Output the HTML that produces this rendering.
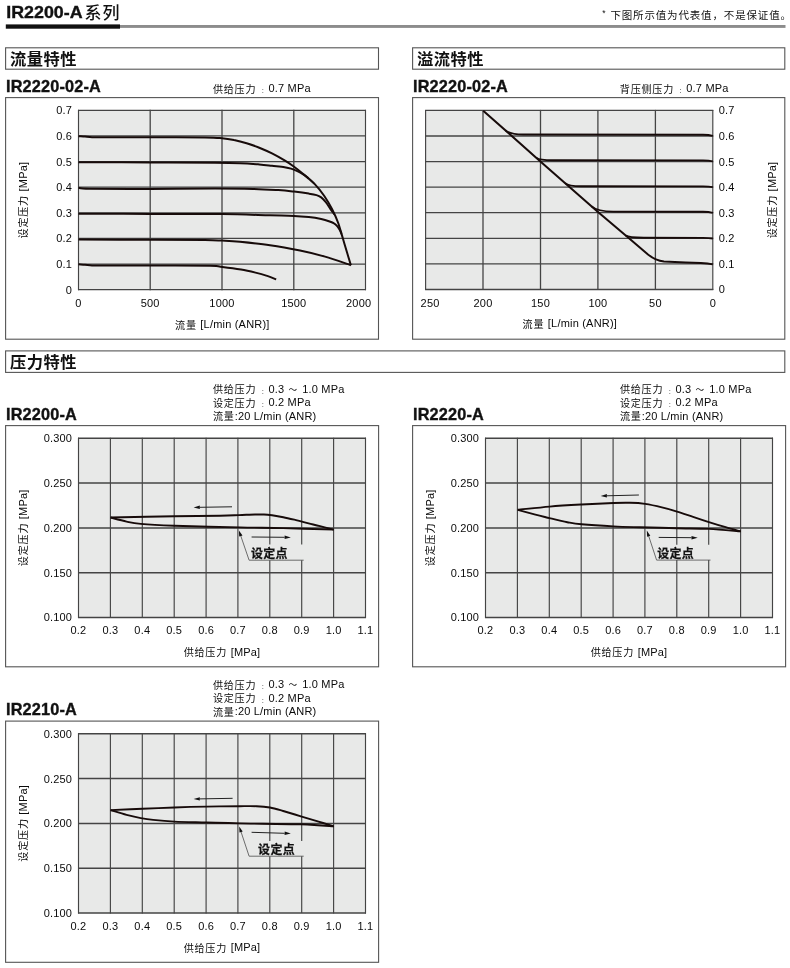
<!DOCTYPE html>
<html lang="zh-CN">
<head>
<meta charset="utf-8">
<title>IR2200-A系列</title>
<style>
html,body{margin:0;padding:0;background:#fff;}
body{width:790px;height:968px;overflow:hidden;}
svg{display:block;font-family:'Liberation Sans', 'Noto Sans CJK SC', sans-serif;}
</style>
</head>
<body>
<svg width="790" height="968" viewBox="0 0 790 968">
<text transform="translate(6.2 18.4) scale(1.07 1)" font-size="16.7" font-weight="bold" fill="#111" stroke="#111" stroke-width="0.35" paint-order="stroke">IR2200-A</text>
<text x="84.6" y="19.2" font-size="17" font-weight="500" fill="#111" letter-spacing="0.9">系列</text>
<rect x="120" y="25" width="665.5" height="2.9" fill="#8c8c8c"/>
<rect x="5.8" y="24.4" width="114.2" height="4.3" fill="#111"/>
<text x="602.3" y="19.0" font-size="10.5" fill="#111" letter-spacing="0.84"><tspan font-size="8.5" dy="-3.2">*</tspan><tspan x="610.4" dy="3.2">下图所示值为代表值，不是保证值。</tspan></text>
<rect x="5.6" y="47.8" width="372.9" height="21.4" fill="#fff" stroke="#555" stroke-width="1.1"/>
<text x="10.1" y="64.5" font-size="16.3" font-weight="bold" fill="#111" letter-spacing="0.45">流量特性</text>
<rect x="412.6" y="47.8" width="372.2" height="21.4" fill="#fff" stroke="#555" stroke-width="1.1"/>
<text x="417.1" y="64.5" font-size="16.3" font-weight="bold" fill="#111" letter-spacing="0.45">溢流特性</text>
<rect x="5.6" y="350.9" width="779.2" height="21.5" fill="#fff" stroke="#555" stroke-width="1.1"/>
<text x="10.1" y="367.7" font-size="16.3" font-weight="bold" fill="#111" letter-spacing="0.45">压力特性</text>
<text x="6.0" y="92.1" font-size="16.3" font-weight="bold" fill="#111" letter-spacing="0.15" stroke="#111" stroke-width="0.35" paint-order="stroke">IR2220-02-A</text>
<text x="212.9" y="92.1" font-size="11" fill="#0a0a0a"><tspan font-size="10.1" letter-spacing="0.75" dy="0.5">供给压力</tspan><tspan x="261.2" dy="0.3" font-size="6.4" fill="#333">：</tspan><tspan x="268.4" dy="-0.8" letter-spacing="0.2">0.7 MPa</tspan></text>
<rect x="5.6" y="97.6" width="372.9" height="241.6" fill="#fff" stroke="#555" stroke-width="1.1"/>
<rect x="78.5" y="110.3" width="287.0" height="179.4" fill="#e8e9e8" stroke="none" stroke-width="1"/>
<line x1="78.5" y1="109.8" x2="78.5" y2="290.2" stroke="#444" stroke-width="1.15"/>
<line x1="150.2" y1="109.8" x2="150.2" y2="290.2" stroke="#444" stroke-width="1.3"/>
<line x1="222.0" y1="109.8" x2="222.0" y2="290.2" stroke="#444" stroke-width="1.3"/>
<line x1="293.8" y1="109.8" x2="293.8" y2="290.2" stroke="#444" stroke-width="1.3"/>
<line x1="365.5" y1="109.8" x2="365.5" y2="290.2" stroke="#444" stroke-width="1.15"/>
<line x1="78.0" y1="110.3" x2="366.0" y2="110.3" stroke="#444" stroke-width="1.3"/>
<line x1="78.0" y1="135.9" x2="366.0" y2="135.9" stroke="#444" stroke-width="1.3"/>
<line x1="78.0" y1="161.6" x2="366.0" y2="161.6" stroke="#444" stroke-width="1.3"/>
<line x1="78.0" y1="187.2" x2="366.0" y2="187.2" stroke="#444" stroke-width="1.3"/>
<line x1="78.0" y1="212.8" x2="366.0" y2="212.8" stroke="#444" stroke-width="1.3"/>
<line x1="78.0" y1="238.4" x2="366.0" y2="238.4" stroke="#444" stroke-width="1.3"/>
<line x1="78.0" y1="264.1" x2="366.0" y2="264.1" stroke="#444" stroke-width="1.3"/>
<line x1="78.0" y1="289.7" x2="366.0" y2="289.7" stroke="#444" stroke-width="1.3"/>
<text x="72.2" y="114.2" font-size="11" text-anchor="end" letter-spacing="0.2" fill="#0a0a0a">0.7</text>
<text x="72.2" y="139.9" font-size="11" text-anchor="end" letter-spacing="0.2" fill="#0a0a0a">0.6</text>
<text x="72.2" y="165.5" font-size="11" text-anchor="end" letter-spacing="0.2" fill="#0a0a0a">0.5</text>
<text x="72.2" y="191.1" font-size="11" text-anchor="end" letter-spacing="0.2" fill="#0a0a0a">0.4</text>
<text x="72.2" y="216.8" font-size="11" text-anchor="end" letter-spacing="0.2" fill="#0a0a0a">0.3</text>
<text x="72.2" y="242.4" font-size="11" text-anchor="end" letter-spacing="0.2" fill="#0a0a0a">0.2</text>
<text x="72.2" y="268.0" font-size="11" text-anchor="end" letter-spacing="0.2" fill="#0a0a0a">0.1</text>
<text x="72.2" y="293.6" font-size="11" text-anchor="end" letter-spacing="0.2" fill="#0a0a0a">0</text>
<text x="78.5" y="306.8" font-size="11" text-anchor="middle" letter-spacing="0.2" fill="#0a0a0a">0</text>
<text x="150.2" y="306.8" font-size="11" text-anchor="middle" letter-spacing="0.2" fill="#0a0a0a">500</text>
<text x="222.0" y="306.8" font-size="11" text-anchor="middle" letter-spacing="0.2" fill="#0a0a0a">1000</text>
<text x="293.8" y="306.8" font-size="11" text-anchor="middle" letter-spacing="0.2" fill="#0a0a0a">1500</text>
<text x="358.7" y="306.8" font-size="11" text-anchor="middle" letter-spacing="0.2" fill="#0a0a0a">2000</text>
<text x="222.3" y="328.2" font-size="11" text-anchor="middle" fill="#0a0a0a"><tspan font-size="10.12" letter-spacing="0.75" dy="0.5">流量 </tspan><tspan letter-spacing="0.2" dy="-0.5">[L/min (ANR)]</tspan></text>
<text transform="translate(26.9 200.1) rotate(-90)" font-size="11" text-anchor="middle" fill="#0a0a0a"><tspan font-size="10.12" letter-spacing="0.75" dy="0.5">设定压力 </tspan><tspan letter-spacing="0.2" dy="-0.5">[MPa]</tspan></text>
<path d="M78.5 136.2 C79.6 136.3 82.8 136.4 85.0 136.6 C87.2 136.8 89.5 137.1 92.0 137.2 C94.5 137.3 90.3 137.3 100.0 137.3 C109.7 137.3 132.5 137.3 150.0 137.3 C167.5 137.3 193.0 137.2 205.0 137.4 C217.0 137.6 217.2 137.8 222.0 138.2 C226.8 138.6 229.9 139.2 234.0 140.1 C238.1 140.9 242.4 142.0 246.6 143.3 C250.8 144.6 255.1 146.0 259.3 147.7 C263.5 149.4 267.8 151.3 272.0 153.4 C276.2 155.5 280.9 158.2 284.6 160.4 C288.3 162.6 290.9 164.4 294.1 166.7 C297.3 169.0 300.1 171.4 303.6 174.3 C307.1 177.2 311.6 180.8 315.0 184.4 C318.4 188.0 321.5 191.9 324.3 196.0 C327.1 200.1 329.7 204.5 332.0 209.0 C334.3 213.5 336.4 218.1 338.2 223.0 C340.0 227.9 341.3 233.3 342.9 238.5 C344.4 243.7 346.2 249.6 347.5 254.0 C348.8 258.4 350.3 263.3 350.9 265.2" fill="none" stroke="#170b0a" stroke-width="2" stroke-linecap="butt" stroke-linejoin="round"/>
<path d="M78.5 162.3 C90.4 162.3 127.2 162.3 150.0 162.4 C172.8 162.5 199.9 162.6 215.0 162.7 C230.1 162.8 232.9 162.9 240.3 163.2 C247.7 163.5 254.0 164.0 259.3 164.4 C264.6 164.8 267.8 165.3 272.0 165.8 C276.2 166.3 281.4 166.8 284.6 167.3 C287.8 167.8 288.9 168.0 291.0 168.6 C293.1 169.2 295.2 170.1 297.3 171.1 C299.4 172.1 301.7 173.4 303.6 174.6 C305.5 175.8 307.7 177.8 308.5 178.4" fill="none" stroke="#170b0a" stroke-width="2" stroke-linecap="butt" stroke-linejoin="round"/>
<path d="M78.5 187.8 C80.4 188.0 78.1 188.5 90.0 188.7 C101.9 188.9 129.2 188.9 150.0 188.9 C170.8 188.9 197.8 188.6 215.0 188.6 C232.2 188.6 242.4 188.7 253.0 188.9 C263.6 189.2 271.4 189.7 278.3 190.1 C285.2 190.5 289.0 191.0 294.1 191.6 C299.2 192.2 305.1 193.0 308.8 193.6 C312.5 194.2 314.4 194.5 316.5 195.1 C318.6 195.7 319.6 196.2 321.2 197.4 C322.8 198.6 324.2 200.2 325.8 202.1 C327.4 204.0 329.1 207.0 330.5 209.1 C331.9 211.2 333.7 213.5 334.3 214.4" fill="none" stroke="#170b0a" stroke-width="2" stroke-linecap="butt" stroke-linejoin="round"/>
<path d="M78.5 213.7 C90.4 213.7 126.1 213.8 150.0 213.9 C173.9 214.0 202.0 213.9 222.0 214.1 C242.0 214.3 258.0 215.0 270.0 215.3 C282.0 215.6 287.5 215.6 294.0 215.9 C300.5 216.2 304.3 216.6 308.8 217.1 C313.3 217.6 317.9 218.4 321.2 219.1 C324.5 219.8 326.8 220.5 328.9 221.2 C331.0 221.9 332.2 222.3 333.6 223.2 C335.0 224.0 336.4 225.2 337.4 226.3 C338.4 227.4 339.1 228.7 339.8 230.0 C340.5 231.3 341.2 233.3 341.5 234.0" fill="none" stroke="#170b0a" stroke-width="2" stroke-linecap="butt" stroke-linejoin="round"/>
<path d="M78.5 239.6 C90.4 239.6 128.9 239.7 150.0 239.8 C171.1 239.9 193.0 239.9 205.0 240.0 C217.0 240.1 216.2 240.3 222.0 240.6 C227.8 240.9 232.0 241.0 240.0 241.8 C248.0 242.6 260.0 243.8 270.0 245.2 C280.0 246.6 290.8 248.6 300.0 250.5 C309.2 252.4 316.5 254.2 325.0 256.6 C333.5 259.1 346.6 263.8 350.9 265.2" fill="none" stroke="#170b0a" stroke-width="2" stroke-linecap="butt" stroke-linejoin="round"/>
<path d="M78.5 264.3 C79.6 264.4 82.8 264.6 85.0 264.8 C87.2 265.0 89.5 265.4 92.0 265.5 C94.5 265.6 90.3 265.6 100.0 265.6 C109.7 265.6 131.7 265.6 150.0 265.6 C168.3 265.6 197.9 265.6 210.0 265.8 C222.1 266.0 217.2 266.4 222.4 267.0 C227.6 267.6 235.5 268.6 241.0 269.5 C246.5 270.4 251.0 271.5 255.5 272.6 C260.0 273.7 264.4 275.0 267.9 276.1 C271.3 277.2 274.8 278.8 276.2 279.4" fill="none" stroke="#170b0a" stroke-width="2" stroke-linecap="butt" stroke-linejoin="round"/>
<text x="413.0" y="92.1" font-size="16.3" font-weight="bold" fill="#111" letter-spacing="0.15" stroke="#111" stroke-width="0.35" paint-order="stroke">IR2220-02-A</text>
<text x="619.8" y="92.1" font-size="11" fill="#0a0a0a"><tspan font-size="10.1" letter-spacing="0.75" dy="0.5">背压侧压力</tspan><tspan x="679.1" dy="0.3" font-size="6.4" fill="#333">：</tspan><tspan x="686.3" dy="-0.8" letter-spacing="0.2">0.7 MPa</tspan></text>
<rect x="412.6" y="97.6" width="372.2" height="241.6" fill="#fff" stroke="#555" stroke-width="1.1"/>
<rect x="425.6" y="110.4" width="287.2" height="179.1" fill="#e8e9e8" stroke="none" stroke-width="1"/>
<line x1="425.6" y1="109.9" x2="425.6" y2="290.0" stroke="#444" stroke-width="1.15"/>
<line x1="483.0" y1="109.9" x2="483.0" y2="290.0" stroke="#444" stroke-width="1.3"/>
<line x1="540.5" y1="109.9" x2="540.5" y2="290.0" stroke="#444" stroke-width="1.3"/>
<line x1="597.9" y1="109.9" x2="597.9" y2="290.0" stroke="#444" stroke-width="1.3"/>
<line x1="655.4" y1="109.9" x2="655.4" y2="290.0" stroke="#444" stroke-width="1.3"/>
<line x1="712.8" y1="109.9" x2="712.8" y2="290.0" stroke="#444" stroke-width="1.15"/>
<line x1="425.1" y1="110.4" x2="713.3" y2="110.4" stroke="#444" stroke-width="1.3"/>
<line x1="425.1" y1="136.0" x2="713.3" y2="136.0" stroke="#444" stroke-width="1.3"/>
<line x1="425.1" y1="161.6" x2="713.3" y2="161.6" stroke="#444" stroke-width="1.3"/>
<line x1="425.1" y1="187.2" x2="713.3" y2="187.2" stroke="#444" stroke-width="1.3"/>
<line x1="425.1" y1="212.7" x2="713.3" y2="212.7" stroke="#444" stroke-width="1.3"/>
<line x1="425.1" y1="238.3" x2="713.3" y2="238.3" stroke="#444" stroke-width="1.3"/>
<line x1="425.1" y1="263.9" x2="713.3" y2="263.9" stroke="#444" stroke-width="1.3"/>
<line x1="425.1" y1="289.5" x2="713.3" y2="289.5" stroke="#444" stroke-width="1.3"/>
<text x="718.7" y="114.3" font-size="11" letter-spacing="0.2" fill="#0a0a0a">0.7</text>
<text x="718.7" y="139.9" font-size="11" letter-spacing="0.2" fill="#0a0a0a">0.6</text>
<text x="718.7" y="165.5" font-size="11" letter-spacing="0.2" fill="#0a0a0a">0.5</text>
<text x="718.7" y="191.1" font-size="11" letter-spacing="0.2" fill="#0a0a0a">0.4</text>
<text x="718.7" y="216.7" font-size="11" letter-spacing="0.2" fill="#0a0a0a">0.3</text>
<text x="718.7" y="242.3" font-size="11" letter-spacing="0.2" fill="#0a0a0a">0.2</text>
<text x="718.7" y="267.9" font-size="11" letter-spacing="0.2" fill="#0a0a0a">0.1</text>
<text x="718.7" y="293.4" font-size="11" letter-spacing="0.2" fill="#0a0a0a">0</text>
<text x="430.1" y="307.2" font-size="11" text-anchor="middle" letter-spacing="0.2" fill="#0a0a0a">250</text>
<text x="483.0" y="307.2" font-size="11" text-anchor="middle" letter-spacing="0.2" fill="#0a0a0a">200</text>
<text x="540.5" y="307.2" font-size="11" text-anchor="middle" letter-spacing="0.2" fill="#0a0a0a">150</text>
<text x="597.9" y="307.2" font-size="11" text-anchor="middle" letter-spacing="0.2" fill="#0a0a0a">100</text>
<text x="655.4" y="307.2" font-size="11" text-anchor="middle" letter-spacing="0.2" fill="#0a0a0a">50</text>
<text x="712.8" y="307.2" font-size="11" text-anchor="middle" letter-spacing="0.2" fill="#0a0a0a">0</text>
<text x="569.8" y="327.2" font-size="11" text-anchor="middle" fill="#0a0a0a"><tspan font-size="10.12" letter-spacing="0.75" dy="0.5">流量 </tspan><tspan letter-spacing="0.2" dy="-0.5">[L/min (ANR)]</tspan></text>
<text transform="translate(775.6 200.0) rotate(-90)" font-size="11" text-anchor="middle" fill="#0a0a0a"><tspan font-size="10.12" letter-spacing="0.75" dy="0.5">设定压力 </tspan><tspan letter-spacing="0.2" dy="-0.5">[MPa]</tspan></text>
<path d="M483.2 110.7 L540.4 161.4 L597.7 211.8 L628.4 237.8 L648.0 254.5 Q655.6 260.6 664 261.6 L685.6 262.5 L700.8 263 Q708 263.3 712.8 264.4" fill="none" stroke="#170b0a" stroke-width="2" stroke-linecap="butt" stroke-linejoin="round"/>
<path d="M505.4 130.4 Q510.1 134.5 523.2 134.5 L703 134.7 Q709 134.8 712.8 135.8" fill="none" stroke="#170b0a" stroke-width="1.9" stroke-linecap="butt" stroke-linejoin="round"/>
<path d="M536.5 157.9 Q539.0 160.2 553.0 160.2 L703 160.4 Q709 160.5 712.8 161.4" fill="none" stroke="#170b0a" stroke-width="1.9" stroke-linecap="butt" stroke-linejoin="round"/>
<path d="M565.1 183.1 Q568.6 186.2 581.0 186.2 L703 186.4 Q709 186.5 712.8 187.1" fill="none" stroke="#170b0a" stroke-width="1.9" stroke-linecap="butt" stroke-linejoin="round"/>
<path d="M591.6 206.4 Q597.5 211.6 613.2 211.6 L703 211.8 Q709 211.9 712.8 212.8" fill="none" stroke="#170b0a" stroke-width="1.9" stroke-linecap="butt" stroke-linejoin="round"/>
<path d="M625.8 235.6 Q628.3 237.7 644.0 237.7 L703 237.9 Q709 238.0 712.8 238.5" fill="none" stroke="#170b0a" stroke-width="1.9" stroke-linecap="butt" stroke-linejoin="round"/>
<text x="212.9" y="392.8" font-size="11" fill="#0a0a0a"><tspan font-size="10.1" letter-spacing="0.75" dy="0.5">供给压力</tspan><tspan x="261.2" dy="0.3" font-size="6.4" fill="#333">：</tspan><tspan x="268.4" dy="-0.8" letter-spacing="0.2">0.3<tspan x="288.4" font-size="8.6">～</tspan><tspan x="302.2">1.0 MPa</tspan></tspan></text>
<text x="212.9" y="406.3" font-size="11" fill="#0a0a0a"><tspan font-size="10.1" letter-spacing="0.75" dy="0.5">设定压力</tspan><tspan x="261.2" dy="0.3" font-size="6.4" fill="#333">：</tspan><tspan x="268.4" dy="-0.8" letter-spacing="0.2">0.2 MPa</tspan></text>
<text x="212.9" y="419.6" font-size="11" fill="#0a0a0a"><tspan font-size="10.12" letter-spacing="0.75" dy="0.5">流量</tspan><tspan letter-spacing="0.2" dy="-0.5">:20 L/min (ANR)</tspan></text>
<text x="6.0" y="419.8" font-size="16.3" font-weight="bold" fill="#111" letter-spacing="0.15" stroke="#111" stroke-width="0.35" paint-order="stroke">IR2200-A</text>
<rect x="5.6" y="425.6" width="373.0" height="241.2" fill="#fff" stroke="#555" stroke-width="1.1"/>
<rect x="78.5" y="438.2" width="287.0" height="179.3" fill="#e8e9e8" stroke="none" stroke-width="1"/>
<line x1="78.5" y1="437.7" x2="78.5" y2="618.0" stroke="#444" stroke-width="1.15"/>
<line x1="110.4" y1="437.7" x2="110.4" y2="618.0" stroke="#444" stroke-width="1.15"/>
<line x1="142.3" y1="437.7" x2="142.3" y2="618.0" stroke="#444" stroke-width="1.15"/>
<line x1="174.2" y1="437.7" x2="174.2" y2="618.0" stroke="#444" stroke-width="1.15"/>
<line x1="206.1" y1="437.7" x2="206.1" y2="618.0" stroke="#444" stroke-width="1.15"/>
<line x1="237.9" y1="437.7" x2="237.9" y2="618.0" stroke="#444" stroke-width="1.15"/>
<line x1="269.8" y1="438.2" x2="269.8" y2="544.6" stroke="#444" stroke-width="1.15"/>
<line x1="269.8" y1="560.2" x2="269.8" y2="617.5" stroke="#444" stroke-width="1.15"/>
<line x1="301.7" y1="438.2" x2="301.7" y2="544.6" stroke="#444" stroke-width="1.15"/>
<line x1="301.7" y1="560.2" x2="301.7" y2="617.5" stroke="#444" stroke-width="1.15"/>
<line x1="333.6" y1="437.7" x2="333.6" y2="618.0" stroke="#444" stroke-width="1.15"/>
<line x1="365.5" y1="437.7" x2="365.5" y2="618.0" stroke="#444" stroke-width="1.15"/>
<line x1="78.0" y1="438.2" x2="366.0" y2="438.2" stroke="#444" stroke-width="1.5"/>
<line x1="78.0" y1="483.0" x2="366.0" y2="483.0" stroke="#444" stroke-width="1.5"/>
<line x1="78.0" y1="527.9" x2="366.0" y2="527.9" stroke="#444" stroke-width="1.5"/>
<line x1="78.0" y1="572.7" x2="366.0" y2="572.7" stroke="#444" stroke-width="1.5"/>
<line x1="78.0" y1="617.5" x2="366.0" y2="617.5" stroke="#444" stroke-width="1.5"/>
<text x="72.2" y="442.1" font-size="11" text-anchor="end" letter-spacing="0.2" fill="#0a0a0a">0.300</text>
<text x="72.2" y="487.0" font-size="11" text-anchor="end" letter-spacing="0.2" fill="#0a0a0a">0.250</text>
<text x="72.2" y="531.8" font-size="11" text-anchor="end" letter-spacing="0.2" fill="#0a0a0a">0.200</text>
<text x="72.2" y="576.6" font-size="11" text-anchor="end" letter-spacing="0.2" fill="#0a0a0a">0.150</text>
<text x="72.2" y="621.4" font-size="11" text-anchor="end" letter-spacing="0.2" fill="#0a0a0a">0.100</text>
<text x="78.5" y="634.3" font-size="11" text-anchor="middle" letter-spacing="0.2" fill="#0a0a0a">0.2</text>
<text x="110.4" y="634.3" font-size="11" text-anchor="middle" letter-spacing="0.2" fill="#0a0a0a">0.3</text>
<text x="142.3" y="634.3" font-size="11" text-anchor="middle" letter-spacing="0.2" fill="#0a0a0a">0.4</text>
<text x="174.2" y="634.3" font-size="11" text-anchor="middle" letter-spacing="0.2" fill="#0a0a0a">0.5</text>
<text x="206.1" y="634.3" font-size="11" text-anchor="middle" letter-spacing="0.2" fill="#0a0a0a">0.6</text>
<text x="237.9" y="634.3" font-size="11" text-anchor="middle" letter-spacing="0.2" fill="#0a0a0a">0.7</text>
<text x="269.8" y="634.3" font-size="11" text-anchor="middle" letter-spacing="0.2" fill="#0a0a0a">0.8</text>
<text x="301.7" y="634.3" font-size="11" text-anchor="middle" letter-spacing="0.2" fill="#0a0a0a">0.9</text>
<text x="333.6" y="634.3" font-size="11" text-anchor="middle" letter-spacing="0.2" fill="#0a0a0a">1.0</text>
<text x="365.5" y="634.3" font-size="11" text-anchor="middle" letter-spacing="0.2" fill="#0a0a0a">1.1</text>
<text x="222.0" y="655.6" font-size="11" text-anchor="middle" fill="#0a0a0a"><tspan font-size="10.12" letter-spacing="0.75" dy="0.5">供给压力 </tspan><tspan letter-spacing="0.2" dy="-0.5">[MPa]</tspan></text>
<text transform="translate(26.9 527.8) rotate(-90)" font-size="11" text-anchor="middle" fill="#0a0a0a"><tspan font-size="10.12" letter-spacing="0.75" dy="0.5">设定压力 </tspan><tspan letter-spacing="0.2" dy="-0.5">[MPa]</tspan></text>
<path d="M110.6 517.5 C121.2 517.3 156.2 516.6 174.4 516.3 C192.6 516.0 209.2 515.9 220.0 515.7 C230.8 515.5 233.2 515.3 239.0 515.1 C244.8 514.9 250.8 514.6 255.0 514.5 C259.2 514.4 261.2 514.4 264.0 514.5 C266.8 514.6 268.8 514.8 272.0 515.2 C275.2 515.7 279.3 516.4 283.3 517.2 C287.3 518.0 291.8 519.1 296.0 520.1 C300.2 521.1 304.6 522.3 308.6 523.3 C312.6 524.3 315.8 525.2 320.0 526.2 C324.2 527.2 331.4 529.0 333.7 529.6" fill="none" stroke="#170b0a" stroke-width="1.9" stroke-linecap="butt" stroke-linejoin="round"/>
<path d="M110.6 517.5 C113.3 518.2 121.6 520.5 126.6 521.6 C131.6 522.7 132.8 523.2 140.8 523.9 C148.8 524.6 157.9 525.1 174.4 525.7 C190.9 526.3 221.9 527.0 240.0 527.4 C258.1 527.8 267.6 527.7 283.2 528.1 C298.8 528.5 325.3 529.4 333.7 529.6" fill="none" stroke="#170b0a" stroke-width="1.9" stroke-linecap="butt" stroke-linejoin="round"/>
<line x1="232.0" y1="506.8" x2="199.8" y2="507.3" stroke="#222" stroke-width="1.0"/>
<polygon points="193.6,507.4 199.8,505.6 199.8,509.0" fill="#111"/>
<line x1="251.6" y1="537.0" x2="284.6" y2="537.3" stroke="#222" stroke-width="1.0"/>
<polygon points="290.8,537.4 284.6,539.0 284.6,535.6" fill="#111"/>
<polyline points="240.1,533.9 249.1,560.2 303.7,560.2" fill="none" stroke="#555" stroke-width="0.85"/>
<polygon points="238.9,530.4 242.5,535.5 239.2,536.6" fill="#111"/>
<text x="251.0" y="557.9" font-size="12" font-weight="bold" fill="#111" stroke="#111" stroke-width="0.25" letter-spacing="0.3">设定点</text>
<text x="619.9" y="392.8" font-size="11" fill="#0a0a0a"><tspan font-size="10.1" letter-spacing="0.75" dy="0.5">供给压力</tspan><tspan x="668.2" dy="0.3" font-size="6.4" fill="#333">：</tspan><tspan x="675.4" dy="-0.8" letter-spacing="0.2">0.3<tspan x="695.4" font-size="8.6">～</tspan><tspan x="709.2">1.0 MPa</tspan></tspan></text>
<text x="619.9" y="406.3" font-size="11" fill="#0a0a0a"><tspan font-size="10.1" letter-spacing="0.75" dy="0.5">设定压力</tspan><tspan x="668.2" dy="0.3" font-size="6.4" fill="#333">：</tspan><tspan x="675.4" dy="-0.8" letter-spacing="0.2">0.2 MPa</tspan></text>
<text x="619.9" y="419.6" font-size="11" fill="#0a0a0a"><tspan font-size="10.12" letter-spacing="0.75" dy="0.5">流量</tspan><tspan letter-spacing="0.2" dy="-0.5">:20 L/min (ANR)</tspan></text>
<text x="413.0" y="419.8" font-size="16.3" font-weight="bold" fill="#111" letter-spacing="0.15" stroke="#111" stroke-width="0.35" paint-order="stroke">IR2220-A</text>
<rect x="412.6" y="425.6" width="373.0" height="241.2" fill="#fff" stroke="#555" stroke-width="1.1"/>
<rect x="485.5" y="438.2" width="287.0" height="179.3" fill="#e8e9e8" stroke="none" stroke-width="1"/>
<line x1="485.5" y1="437.7" x2="485.5" y2="618.0" stroke="#444" stroke-width="1.15"/>
<line x1="517.4" y1="437.7" x2="517.4" y2="618.0" stroke="#444" stroke-width="1.15"/>
<line x1="549.3" y1="437.7" x2="549.3" y2="618.0" stroke="#444" stroke-width="1.15"/>
<line x1="581.2" y1="437.7" x2="581.2" y2="618.0" stroke="#444" stroke-width="1.15"/>
<line x1="613.1" y1="437.7" x2="613.1" y2="618.0" stroke="#444" stroke-width="1.15"/>
<line x1="644.9" y1="437.7" x2="644.9" y2="618.0" stroke="#444" stroke-width="1.15"/>
<line x1="676.8" y1="438.2" x2="676.8" y2="544.7" stroke="#444" stroke-width="1.15"/>
<line x1="676.8" y1="560.1" x2="676.8" y2="617.5" stroke="#444" stroke-width="1.15"/>
<line x1="708.7" y1="438.2" x2="708.7" y2="544.7" stroke="#444" stroke-width="1.15"/>
<line x1="708.7" y1="560.1" x2="708.7" y2="617.5" stroke="#444" stroke-width="1.15"/>
<line x1="740.6" y1="437.7" x2="740.6" y2="618.0" stroke="#444" stroke-width="1.15"/>
<line x1="772.5" y1="437.7" x2="772.5" y2="618.0" stroke="#444" stroke-width="1.15"/>
<line x1="485.0" y1="438.2" x2="773.0" y2="438.2" stroke="#444" stroke-width="1.5"/>
<line x1="485.0" y1="483.0" x2="773.0" y2="483.0" stroke="#444" stroke-width="1.5"/>
<line x1="485.0" y1="527.9" x2="773.0" y2="527.9" stroke="#444" stroke-width="1.5"/>
<line x1="485.0" y1="572.7" x2="773.0" y2="572.7" stroke="#444" stroke-width="1.5"/>
<line x1="485.0" y1="617.5" x2="773.0" y2="617.5" stroke="#444" stroke-width="1.5"/>
<text x="479.2" y="442.1" font-size="11" text-anchor="end" letter-spacing="0.2" fill="#0a0a0a">0.300</text>
<text x="479.2" y="487.0" font-size="11" text-anchor="end" letter-spacing="0.2" fill="#0a0a0a">0.250</text>
<text x="479.2" y="531.8" font-size="11" text-anchor="end" letter-spacing="0.2" fill="#0a0a0a">0.200</text>
<text x="479.2" y="576.6" font-size="11" text-anchor="end" letter-spacing="0.2" fill="#0a0a0a">0.150</text>
<text x="479.2" y="621.4" font-size="11" text-anchor="end" letter-spacing="0.2" fill="#0a0a0a">0.100</text>
<text x="485.5" y="634.3" font-size="11" text-anchor="middle" letter-spacing="0.2" fill="#0a0a0a">0.2</text>
<text x="517.4" y="634.3" font-size="11" text-anchor="middle" letter-spacing="0.2" fill="#0a0a0a">0.3</text>
<text x="549.3" y="634.3" font-size="11" text-anchor="middle" letter-spacing="0.2" fill="#0a0a0a">0.4</text>
<text x="581.2" y="634.3" font-size="11" text-anchor="middle" letter-spacing="0.2" fill="#0a0a0a">0.5</text>
<text x="613.1" y="634.3" font-size="11" text-anchor="middle" letter-spacing="0.2" fill="#0a0a0a">0.6</text>
<text x="644.9" y="634.3" font-size="11" text-anchor="middle" letter-spacing="0.2" fill="#0a0a0a">0.7</text>
<text x="676.8" y="634.3" font-size="11" text-anchor="middle" letter-spacing="0.2" fill="#0a0a0a">0.8</text>
<text x="708.7" y="634.3" font-size="11" text-anchor="middle" letter-spacing="0.2" fill="#0a0a0a">0.9</text>
<text x="740.6" y="634.3" font-size="11" text-anchor="middle" letter-spacing="0.2" fill="#0a0a0a">1.0</text>
<text x="772.5" y="634.3" font-size="11" text-anchor="middle" letter-spacing="0.2" fill="#0a0a0a">1.1</text>
<text x="629.0" y="655.6" font-size="11" text-anchor="middle" fill="#0a0a0a"><tspan font-size="10.12" letter-spacing="0.75" dy="0.5">供给压力 </tspan><tspan letter-spacing="0.2" dy="-0.5">[MPa]</tspan></text>
<text transform="translate(433.9 527.8) rotate(-90)" font-size="11" text-anchor="middle" fill="#0a0a0a"><tspan font-size="10.12" letter-spacing="0.75" dy="0.5">设定压力 </tspan><tspan letter-spacing="0.2" dy="-0.5">[MPa]</tspan></text>
<path d="M517.7 509.8 C523.0 509.3 539.0 507.5 549.6 506.6 C560.2 505.7 570.9 505.1 581.5 504.5 C592.1 503.9 605.3 503.3 613.4 503.0 C621.5 502.7 624.7 502.7 630.0 502.8 C635.3 502.9 639.8 503.1 645.1 503.9 C650.4 504.7 656.6 506.1 661.9 507.4 C667.2 508.7 671.7 510.0 677.0 511.6 C682.3 513.2 688.5 515.4 693.8 517.1 C699.1 518.9 703.6 520.4 708.9 522.1 C714.2 523.8 720.4 525.7 725.7 527.2 C731.0 528.8 738.3 530.7 740.8 531.4" fill="none" stroke="#170b0a" stroke-width="1.9" stroke-linecap="butt" stroke-linejoin="round"/>
<path d="M517.7 509.8 C520.7 510.6 530.1 513.2 535.4 514.6 C540.7 516.0 544.3 516.8 549.6 518.1 C554.9 519.4 562.0 521.2 567.3 522.2 C572.6 523.2 573.8 523.6 581.5 524.3 C589.2 525.0 603.6 525.9 613.4 526.4 C623.1 526.9 629.4 527.0 640.0 527.3 C650.6 527.6 665.5 527.9 677.0 528.2 C688.5 528.5 698.3 528.4 708.9 528.9 C719.5 529.4 735.5 531.0 740.8 531.4" fill="none" stroke="#170b0a" stroke-width="1.9" stroke-linecap="butt" stroke-linejoin="round"/>
<line x1="638.9" y1="495.0" x2="606.9" y2="495.8" stroke="#222" stroke-width="1.0"/>
<polygon points="600.7,496.0 606.9,494.1 606.9,497.5" fill="#111"/>
<line x1="658.7" y1="537.4" x2="691.5" y2="537.7" stroke="#222" stroke-width="1.0"/>
<polygon points="697.7,537.8 691.5,539.4 691.5,536.0" fill="#111"/>
<polyline points="648.0,534.0 656.6,560.1 710.5,560.1" fill="none" stroke="#555" stroke-width="0.85"/>
<polygon points="646.8,530.5 650.3,535.7 647.1,536.7" fill="#111"/>
<text x="657.2" y="557.8" font-size="12" font-weight="bold" fill="#111" stroke="#111" stroke-width="0.25" letter-spacing="0.3">设定点</text>
<text x="212.9" y="688.3" font-size="11" fill="#0a0a0a"><tspan font-size="10.1" letter-spacing="0.75" dy="0.5">供给压力</tspan><tspan x="261.2" dy="0.3" font-size="6.4" fill="#333">：</tspan><tspan x="268.4" dy="-0.8" letter-spacing="0.2">0.3<tspan x="288.4" font-size="8.6">～</tspan><tspan x="302.2">1.0 MPa</tspan></tspan></text>
<text x="212.9" y="701.8" font-size="11" fill="#0a0a0a"><tspan font-size="10.1" letter-spacing="0.75" dy="0.5">设定压力</tspan><tspan x="261.2" dy="0.3" font-size="6.4" fill="#333">：</tspan><tspan x="268.4" dy="-0.8" letter-spacing="0.2">0.2 MPa</tspan></text>
<text x="212.9" y="715.1" font-size="11" fill="#0a0a0a"><tspan font-size="10.12" letter-spacing="0.75" dy="0.5">流量</tspan><tspan letter-spacing="0.2" dy="-0.5">:20 L/min (ANR)</tspan></text>
<text x="6.0" y="715.3" font-size="16.3" font-weight="bold" fill="#111" letter-spacing="0.15" stroke="#111" stroke-width="0.35" paint-order="stroke">IR2210-A</text>
<rect x="5.6" y="721.1" width="373.0" height="241.2" fill="#fff" stroke="#555" stroke-width="1.1"/>
<rect x="78.5" y="733.7" width="287.0" height="179.3" fill="#e8e9e8" stroke="none" stroke-width="1"/>
<line x1="78.5" y1="733.2" x2="78.5" y2="913.5" stroke="#444" stroke-width="1.15"/>
<line x1="110.4" y1="733.2" x2="110.4" y2="913.5" stroke="#444" stroke-width="1.15"/>
<line x1="142.3" y1="733.2" x2="142.3" y2="913.5" stroke="#444" stroke-width="1.15"/>
<line x1="174.2" y1="733.2" x2="174.2" y2="913.5" stroke="#444" stroke-width="1.15"/>
<line x1="206.1" y1="733.2" x2="206.1" y2="913.5" stroke="#444" stroke-width="1.15"/>
<line x1="237.9" y1="733.2" x2="237.9" y2="913.5" stroke="#444" stroke-width="1.15"/>
<line x1="269.8" y1="733.7" x2="269.8" y2="841.1" stroke="#444" stroke-width="1.15"/>
<line x1="269.8" y1="856.2" x2="269.8" y2="913.0" stroke="#444" stroke-width="1.15"/>
<line x1="301.7" y1="733.7" x2="301.7" y2="841.1" stroke="#444" stroke-width="1.15"/>
<line x1="301.7" y1="856.2" x2="301.7" y2="913.0" stroke="#444" stroke-width="1.15"/>
<line x1="333.6" y1="733.2" x2="333.6" y2="913.5" stroke="#444" stroke-width="1.15"/>
<line x1="365.5" y1="733.2" x2="365.5" y2="913.5" stroke="#444" stroke-width="1.15"/>
<line x1="78.0" y1="733.7" x2="366.0" y2="733.7" stroke="#444" stroke-width="1.5"/>
<line x1="78.0" y1="778.5" x2="366.0" y2="778.5" stroke="#444" stroke-width="1.5"/>
<line x1="78.0" y1="823.4" x2="366.0" y2="823.4" stroke="#444" stroke-width="1.5"/>
<line x1="78.0" y1="868.2" x2="366.0" y2="868.2" stroke="#444" stroke-width="1.5"/>
<line x1="78.0" y1="913.0" x2="366.0" y2="913.0" stroke="#444" stroke-width="1.5"/>
<text x="72.2" y="737.6" font-size="11" text-anchor="end" letter-spacing="0.2" fill="#0a0a0a">0.300</text>
<text x="72.2" y="782.5" font-size="11" text-anchor="end" letter-spacing="0.2" fill="#0a0a0a">0.250</text>
<text x="72.2" y="827.3" font-size="11" text-anchor="end" letter-spacing="0.2" fill="#0a0a0a">0.200</text>
<text x="72.2" y="872.1" font-size="11" text-anchor="end" letter-spacing="0.2" fill="#0a0a0a">0.150</text>
<text x="72.2" y="916.9" font-size="11" text-anchor="end" letter-spacing="0.2" fill="#0a0a0a">0.100</text>
<text x="78.5" y="929.8" font-size="11" text-anchor="middle" letter-spacing="0.2" fill="#0a0a0a">0.2</text>
<text x="110.4" y="929.8" font-size="11" text-anchor="middle" letter-spacing="0.2" fill="#0a0a0a">0.3</text>
<text x="142.3" y="929.8" font-size="11" text-anchor="middle" letter-spacing="0.2" fill="#0a0a0a">0.4</text>
<text x="174.2" y="929.8" font-size="11" text-anchor="middle" letter-spacing="0.2" fill="#0a0a0a">0.5</text>
<text x="206.1" y="929.8" font-size="11" text-anchor="middle" letter-spacing="0.2" fill="#0a0a0a">0.6</text>
<text x="237.9" y="929.8" font-size="11" text-anchor="middle" letter-spacing="0.2" fill="#0a0a0a">0.7</text>
<text x="269.8" y="929.8" font-size="11" text-anchor="middle" letter-spacing="0.2" fill="#0a0a0a">0.8</text>
<text x="301.7" y="929.8" font-size="11" text-anchor="middle" letter-spacing="0.2" fill="#0a0a0a">0.9</text>
<text x="333.6" y="929.8" font-size="11" text-anchor="middle" letter-spacing="0.2" fill="#0a0a0a">1.0</text>
<text x="365.5" y="929.8" font-size="11" text-anchor="middle" letter-spacing="0.2" fill="#0a0a0a">1.1</text>
<text x="222.0" y="951.1" font-size="11" text-anchor="middle" fill="#0a0a0a"><tspan font-size="10.12" letter-spacing="0.75" dy="0.5">供给压力 </tspan><tspan letter-spacing="0.2" dy="-0.5">[MPa]</tspan></text>
<text transform="translate(26.9 823.3) rotate(-90)" font-size="11" text-anchor="middle" fill="#0a0a0a"><tspan font-size="10.12" letter-spacing="0.75" dy="0.5">设定压力 </tspan><tspan letter-spacing="0.2" dy="-0.5">[MPa]</tspan></text>
<path d="M110.6 810.1 C115.9 809.9 131.9 809.1 142.5 808.7 C153.1 808.3 163.8 807.9 174.4 807.5 C185.0 807.1 195.4 806.8 206.3 806.6 C217.2 806.4 231.6 806.3 240.0 806.2 C248.4 806.1 251.6 806.0 256.6 806.2 C261.6 806.4 265.5 806.7 269.9 807.5 C274.3 808.3 278.0 809.5 283.2 811.0 C288.4 812.5 295.0 814.5 300.9 816.3 C306.8 818.1 313.1 819.9 318.6 821.6 C324.1 823.3 331.2 825.6 333.7 826.4" fill="none" stroke="#170b0a" stroke-width="1.9" stroke-linecap="butt" stroke-linejoin="round"/>
<path d="M110.6 810.1 C113.3 810.9 121.6 813.6 126.6 814.9 C131.6 816.2 136.4 817.3 140.8 818.1 C145.2 818.9 147.6 819.3 153.2 819.9 C158.8 820.5 165.6 821.2 174.4 821.6 C183.2 822.0 195.4 822.2 206.3 822.5 C217.2 822.8 224.2 823.1 240.0 823.4 C255.8 823.7 285.3 823.8 300.9 824.3 C316.5 824.8 328.2 826.0 333.7 826.4" fill="none" stroke="#170b0a" stroke-width="1.9" stroke-linecap="butt" stroke-linejoin="round"/>
<line x1="232.6" y1="798.3" x2="199.8" y2="798.9" stroke="#222" stroke-width="1.0"/>
<polygon points="193.6,799.0 199.8,797.2 199.8,800.6" fill="#111"/>
<line x1="251.6" y1="832.3" x2="284.6" y2="833.3" stroke="#222" stroke-width="1.0"/>
<polygon points="290.8,833.5 284.6,835.0 284.7,831.6" fill="#111"/>
<polyline points="240.4,829.9 249.1,856.2 303.7,856.2" fill="none" stroke="#555" stroke-width="0.85"/>
<polygon points="239.2,826.4 242.7,831.6 239.5,832.6" fill="#111"/>
<text x="258.1" y="853.9" font-size="12" font-weight="bold" fill="#111" stroke="#111" stroke-width="0.25" letter-spacing="0.3">设定点</text>
</svg>
</body>
</html>
